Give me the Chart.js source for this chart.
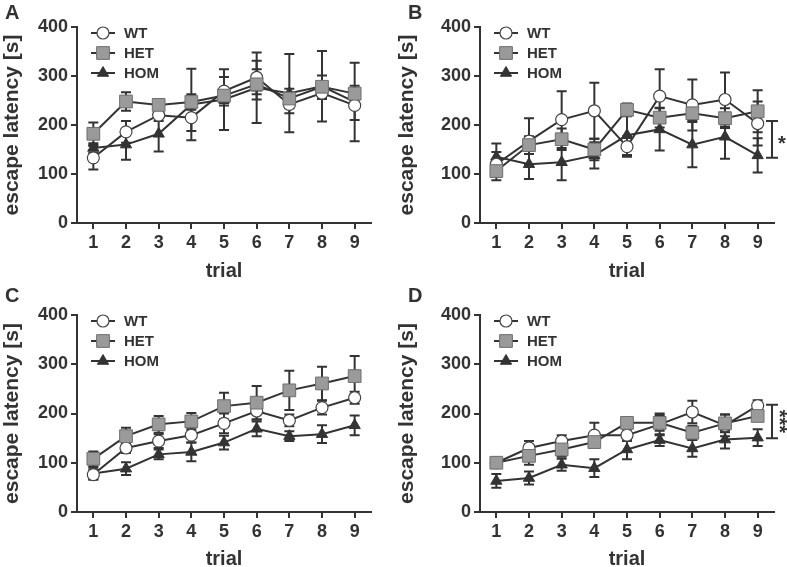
<!DOCTYPE html>
<html>
<head>
<meta charset="utf-8">
<script src="https://cdn.jsdelivr.net/npm/chart.js@4.4.1/dist/chart.umd.min.js"></script>
<style>
  body { margin: 0; background: #fff; width: 787px; height: 567px; position: relative; overflow: hidden; }
  canvas { position: absolute; }
</style>
</head>
<body>
<canvas id="panelA"></canvas>
<canvas id="panelB"></canvas>
<canvas id="panelC"></canvas>
<canvas id="panelD"></canvas>
<script>
// trials on the x axis, latency ticks on the y axis
const trials = ['1', '2', '3', '4', '5', '6', '7', '8', '9'];
const latencyTicks = [0, 100, 200, 300, 400];
const groups = ['WT', 'HET', 'HOM'];

// panel A
const wtA = [133, 186, 220, 215, 269, 297, 242, 265, 240];
const wtErrA = [24, 22, 12, 27, 29, 34, 18, 12, 30];
const hetA = [182, 248, 241, 247, 260, 283, 254, 278, 264];
const hetErrA = [23, 19, 10, 16, 15, 31, 20, 23, 16];
const homA = [153, 160, 182, 242, 252, 276, 265, 279, 247];
const homErrA = [10, 31, 36, 73, 62, 72, 80, 72, 80];

// panel B
const wtB = [120, 167, 211, 229, 156, 259, 241, 252, 203];
const wtErrB = [25, 47, 58, 57, 21, 55, 52, 55, 45];
const hetB = [106, 159, 171, 150, 231, 215, 224, 214, 228];
const hetErrB = [19, 18, 22, 22, 13, 20, 15, 20, 43];
const homB = [135, 120, 124, 138, 179, 191, 160, 176, 138];
const homErrB = [27, 30, 37, 27, 40, 43, 46, 45, 35];
const sigB = [133, 208];

// panel C
const wtC = [76, 130, 144, 156, 180, 205, 186, 212, 232];
const wtErrC = [10, 10, 14, 15, 20, 17, 12, 14, 12];
const hetC = [108, 154, 178, 184, 215, 222, 247, 261, 276];
const hetErrC = [15, 17, 17, 17, 27, 34, 40, 34, 41];
const homC = [78, 88, 117, 122, 141, 169, 154, 158, 176];
const homErrC = [12, 13, 10, 19, 14, 15, 10, 18, 20];

// panel D
const wtD = [100, 130, 144, 156, 156, 178, 203, 176, 216];
const wtErrD = [8, 14, 12, 25, 12, 22, 23, 22, 11];
const hetD = [100, 114, 127, 142, 181, 181, 161, 180, 195];
const hetErrD = [8, 18, 15, 10, 8, 16, 14, 18, 10];
const homD = [63, 69, 96, 89, 127, 146, 129, 147, 151];
const homErrD = [14, 13, 12, 18, 20, 12, 17, 18, 17];
const sigD = [150, 218];

const ink = '#333333';
const family = "'Liberation Sans', Arial, Helvetica, sans-serif";

function drawMarker(ctx, ds, x, y) {
  const r = ds.pointRadius;
  ctx.fillStyle = ds.pointBackgroundColor;
  ctx.strokeStyle = ds.pointBorderColor;
  ctx.lineWidth = ds.pointBorderWidth;
  ctx.beginPath();
  if (ds.pointStyle === 'circle') {
    ctx.arc(x, y, r, 0, Math.PI * 2);
  } else if (ds.pointStyle === 'rect') {
    const s = r * Math.SQRT1_2;
    ctx.rect(x - s, y - s, 2 * s, 2 * s);
  } else {
    for (let k = 0; k < 3; k++) {
      const a = k * 2 * Math.PI / 3;
      ctx.lineTo(x + Math.sin(a) * r, y - Math.cos(a) * r);
    }
  }
  ctx.closePath();
  ctx.fill();
  ctx.stroke();
}

// mean +/- error whiskers, drawn under the markers
const errorBars = {
  id: 'errorBars',
  beforeDatasetsDraw(chart) {
    const ctx = chart.ctx, y = chart.scales.y;
    ctx.save();
    ctx.strokeStyle = ink;
    ctx.lineWidth = 2;
    chart.data.datasets.forEach((ds, di) => {
      chart.getDatasetMeta(di).data.forEach((pt, i) => {
        const hi = y.getPixelForValue(ds.data[i] + ds.errors[i]);
        const lo = y.getPixelForValue(ds.data[i] - ds.errors[i]);
        ctx.beginPath();
        ctx.moveTo(pt.x, hi); ctx.lineTo(pt.x, lo);
        ctx.moveTo(pt.x - 5, hi); ctx.lineTo(pt.x + 5, hi);
        ctx.moveTo(pt.x - 5, lo); ctx.lineTo(pt.x + 5, lo);
        ctx.stroke();
      });
    });
    ctx.restore();
  }
};

// legend inside the plot, panel letter, significance bracket
const panelDecor = {
  id: 'panelDecor',
  afterDraw(chart, args, opts) {
    const { ctx, chartArea } = chart;
    ctx.save();
    chart.data.datasets.forEach((ds, i) => {
      const y = chartArea.top + 6 + i * 20;
      const x0 = chartArea.left + 14;
      ctx.strokeStyle = ink;
      ctx.lineWidth = 2;
      ctx.beginPath(); ctx.moveTo(x0, y); ctx.lineTo(x0 + 24, y); ctx.stroke();
      drawMarker(ctx, ds, x0 + 12, y);
      ctx.fillStyle = ink;
      ctx.font = 'bold 15px ' + family;
      ctx.textBaseline = 'middle';
      ctx.textAlign = 'left';
      ctx.fillText(ds.label, chartArea.left + 47, y + 1);
    });

    ctx.fillStyle = ink;
    ctx.font = 'bold 20px ' + family;
    ctx.textBaseline = 'alphabetic';
    ctx.fillText(opts.letter, chartArea.left - 72, 19);

    if (opts.sig) {
      const ys = chart.scales.y;
      const x = chartArea.right - 2;
      const t = ys.getPixelForValue(opts.sig[1]), b = ys.getPixelForValue(opts.sig[0]);
      ctx.strokeStyle = ink;
      ctx.lineWidth = 2;
      ctx.beginPath();
      ctx.moveTo(x, t); ctx.lineTo(x, b);
      ctx.moveTo(x - 6, t); ctx.lineTo(x + 6, t);
      ctx.moveTo(x - 6, b); ctx.lineTo(x + 6, b);
      ctx.stroke();
      const mid = (t + b) / 2;
      ctx.font = 'bold 20px ' + family;
      ctx.textAlign = 'center';
      ctx.textBaseline = 'middle';
      if (opts.sigText.length === 1) {
        ctx.fillText(opts.sigText, x + 10, mid + 5);
      } else {
        ctx.translate(x + 7, mid);
        ctx.rotate(Math.PI / 2);
        ctx.fillText(opts.sigText, 0, 0);
      }
    }
    ctx.restore();
  }
};

function makePanel(id, letter, box, area, wt, wtErr, het, hetErr, hom, homErr, sig, sigText) {
  const cv = document.getElementById(id);
  cv.width = box[2]; cv.height = box[3];
  cv.style.left = box[0] + 'px'; cv.style.top = box[1] + 'px';
  cv.style.width = box[2] + 'px'; cv.style.height = box[3] + 'px';

  const axisStyle = {
    grid: { display: true, drawOnChartArea: false, drawTicks: true, tickLength: 6, color: ink, lineWidth: 2 },
    border: { display: true, color: ink, width: 2 }
  };

  new Chart(cv, {
    type: 'line',
    data: {
      labels: trials,
      datasets: [
        { label: groups[0], data: wt, errors: wtErr, order: 1,
          borderColor: ink, borderWidth: 2, pointStyle: 'circle', pointRadius: 6,
          pointBackgroundColor: '#ffffff', pointBorderColor: '#444444', pointBorderWidth: 1.2 },
        { label: groups[1], data: het, errors: hetErr, order: 0,
          borderColor: ink, borderWidth: 2, pointStyle: 'rect', pointRadius: 9,
          pointBackgroundColor: '#9a9a9a', pointBorderColor: '#6e6e6e', pointBorderWidth: 1 },
        { label: groups[2], data: hom, errors: homErr, order: 2,
          borderColor: ink, borderWidth: 2, pointStyle: 'triangle', pointRadius: 6.5,
          pointBackgroundColor: ink, pointBorderColor: ink, pointBorderWidth: 1 }
      ]
    },
    options: {
      responsive: false,
      animation: false,
      devicePixelRatio: 1,
      layout: { padding: { left: 0, top: area[1], right: box[2] - area[2], bottom: 0 } },
      plugins: {
        legend: { display: false },
        tooltip: { enabled: false },
        panelDecor: { letter: letter, sig: sig, sigText: sigText }
      },
      scales: {
        x: {
          type: 'category',
          offset: true,
          ...axisStyle,
          grid: { ...axisStyle.grid, offset: false },
          ticks: { color: ink, padding: 3, font: { family: family, size: 18, weight: 'bold' } },
          title: { display: true, text: 'trial', color: ink, padding: 0,
                   font: { family: family, size: 20, weight: 'bold', lineHeight: 1.2 } },
          afterFit: s => { s.height = box[3] - area[3]; }
        },
        y: {
          min: 0, max: 400,
          ...axisStyle,
          afterBuildTicks: s => { s.ticks = latencyTicks.map(v => ({ value: v })); },
          ticks: { color: ink, padding: 3, font: { family: family, size: 18, weight: 'bold' } },
          title: { display: true, text: 'escape latency [s]', color: ink, padding: 0,
                   font: { family: family, size: 21, weight: 'bold', lineHeight: 1.2 } },
          afterFit: s => { s.width = area[0]; }
        }
      }
    },
    plugins: [errorBars, panelDecor]
  });
}

makePanel('panelA', 'A', [0, 0, 393, 283], [77, 27, 371, 223], wtA, wtErrA, hetA, hetErrA, homA, homErrA, null, '');
makePanel('panelB', 'B', [395, 0, 392, 283], [85, 27, 379, 223], wtB, wtErrB, hetB, hetErrB, homB, homErrB, sigB, '*');
makePanel('panelC', 'C', [0, 283, 393, 288], [77, 32, 371, 229], wtC, wtErrC, hetC, hetErrC, homC, homErrC, null, '');
makePanel('panelD', 'D', [395, 283, 392, 288], [85, 32, 379, 229], wtD, wtErrD, hetD, hetErrD, homD, homErrD, sigD, '***');
</script>
</body>
</html>
